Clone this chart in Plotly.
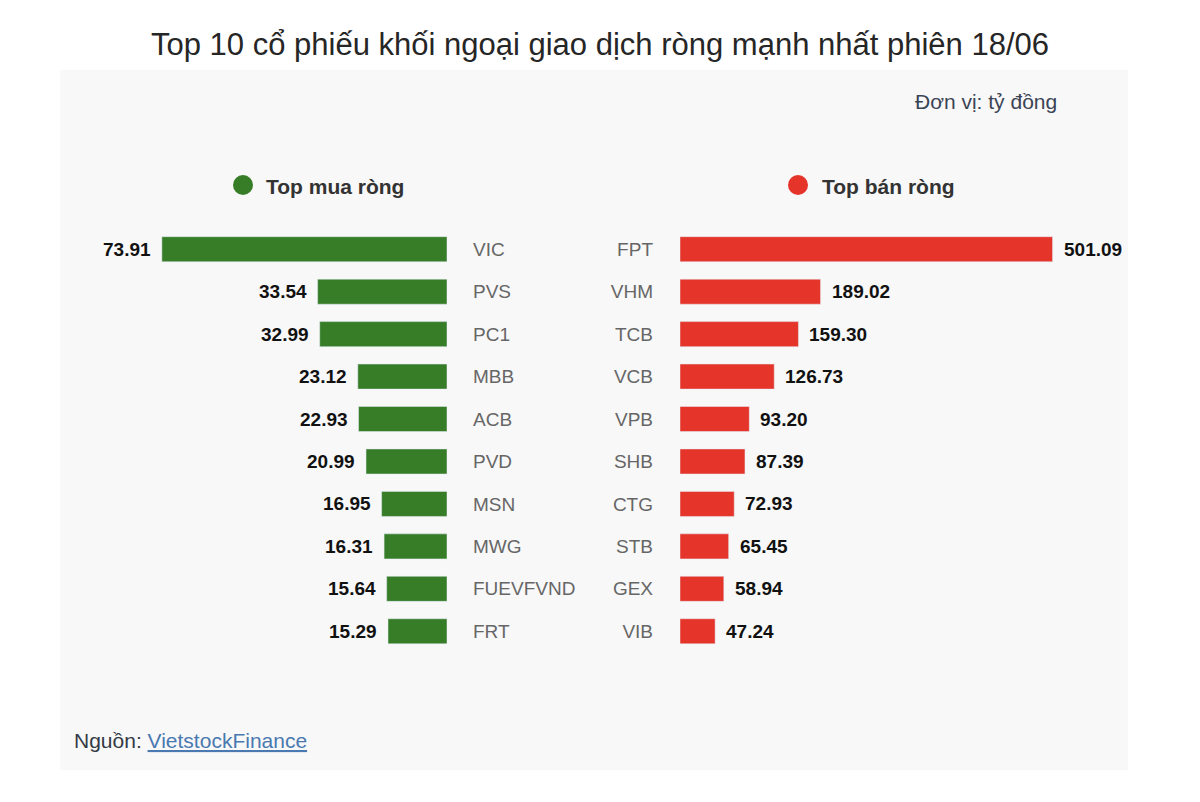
import plotly.graph_objects as go

buy_tickers = ["VIC", "PVS", "PC1", "MBB", "ACB", "PVD", "MSN", "MWG", "FUEVFVND", "FRT"]
buy_values = [73.91, 33.54, 32.99, 23.12, 22.93, 20.99, 16.95, 16.31, 15.64, 15.29]
sell_tickers = ["FPT", "VHM", "TCB", "VCB", "VPB", "SHB", "CTG", "STB", "GEX", "VIB"]
sell_values = [501.09, 189.02, 159.30, 126.73, 93.20, 87.39, 72.93, 65.45, 58.94, 47.24]

title = "Top 10 cổ phiếu khối ngoại giao dịch ròng mạnh nhất phiên 18/06"
buy_label = "Top mua ròng"
sell_label = "Top bán ròng"
unit_label = "Đơn vị: tỷ đồng"
source_prefix = "Nguồn: "
source_name = "VietstockFinance"

GREEN = "#377d28"
RED = "#e5342a"
FONT = "Liberation Sans, Arial, sans-serif"
W, H = 1200, 802

fig = go.Figure()
fig.add_trace(go.Bar(x=buy_values, y=buy_tickers, orientation="h", marker_color=GREEN,
                     width=0.59, xaxis="x", yaxis="y", showlegend=False, hoverinfo="x+y"))
fig.add_trace(go.Bar(x=sell_values, y=sell_tickers, orientation="h", marker_color=RED,
                     width=0.59, xaxis="x2", yaxis="y2", showlegend=False, hoverinfo="x+y"))

annotations = []
for t, v in zip(buy_tickers, buy_values):
    annotations.append(dict(x=v, y=t, xref="x", yref="y", text=f"<b>{v:.2f}</b>",
                            xanchor="right", xshift=-9, showarrow=False,
                            font=dict(size=19, color="#111", family=FONT)))
for t, v in zip(sell_tickers, sell_values):
    annotations.append(dict(x=v, y=t, xref="x2", yref="y2", text=f"<b>{v:.2f}</b>",
                            xanchor="left", xshift=9, showarrow=False,
                            font=dict(size=19, color="#111", family=FONT)))

# legend-like headers
annotations.append(dict(x=264 / W, y=1 - 186 / H, xref="paper", yref="paper", text=f"<b>{buy_label}</b>",
                        xanchor="left", yanchor="middle", showarrow=False,
                        font=dict(size=21, color="#333", family=FONT)))
annotations.append(dict(x=820 / W, y=1 - 186 / H, xref="paper", yref="paper", text=f"<b>{sell_label}</b>",
                        xanchor="left", yanchor="middle", showarrow=False,
                        font=dict(size=21, color="#333", family=FONT)))
annotations.append(dict(x=1059 / W, y=1 - 102 / H, xref="paper", yref="paper", text=unit_label,
                        xanchor="right", yanchor="middle", showarrow=False,
                        font=dict(size=21, color="#3b4455", family=FONT)))
annotations.append(dict(x=72 / W, y=1 - 740 / H, xref="paper", yref="paper",
                        text=f"{source_prefix}<a href='#' style='color:#4a78b0'><span style='color:#4a78b0'><u>{source_name}</u></span></a>",
                        xanchor="left", yanchor="middle", showarrow=False,
                        font=dict(size=21, color="#333a45", family=FONT)))

shapes = [
    dict(type="rect", xref="paper", yref="paper", x0=60 / W, x1=1128 / W, y0=1 - 770 / H, y1=1 - 70 / H,
         fillcolor="#f8f8f8", line=dict(width=0), layer="below"),
    dict(type="circle", xref="paper", yref="paper", x0=233 / W, x1=253 / W, y0=1 - 195 / H, y1=1 - 175 / H,
         fillcolor=GREEN, line=dict(width=0)),
    dict(type="circle", xref="paper", yref="paper", x0=788 / W, x1=808 / W, y0=1 - 195 / H, y1=1 - 175 / H,
         fillcolor=RED, line=dict(width=0)),
]

ydom = [1 - 652.5 / H, 1 - 228 / H]
left_scale = 3.858
right_scale = 0.7435
fig.update_layout(
    width=W, height=H,
    margin=dict(l=0, r=0, t=0, b=0),
    paper_bgcolor="white", plot_bgcolor="rgba(0,0,0,0)",
    font=dict(family=FONT),
    title=dict(text=title, x=0.5, xanchor="center", y=1 - 44 / H, yanchor="middle",
               font=dict(size=31, color="#262626", family=FONT)),
    xaxis=dict(domain=[0, 447 / W], range=[447 / left_scale, 0], visible=False, fixedrange=True),
    xaxis2=dict(domain=[680 / W, 1], range=[0, 520 / right_scale], visible=False, fixedrange=True),
    yaxis=dict(domain=ydom, anchor="x", side="right", autorange="reversed", categoryorder="array",
               categoryarray=buy_tickers, showgrid=False, zeroline=False, showline=False, ticks="",
               ticklabelstandoff=25, tickfont=dict(size=19, color="#666", family=FONT)),
    yaxis2=dict(domain=ydom, anchor="x2", side="left", autorange="reversed", categoryorder="array",
                categoryarray=sell_tickers, showgrid=False, zeroline=False, showline=False, ticks="",
                ticklabelstandoff=26, tickfont=dict(size=19, color="#666", family=FONT)),
    annotations=annotations,
    shapes=shapes,
    bargap=0.4,
)

fig.write_html("out.html")
